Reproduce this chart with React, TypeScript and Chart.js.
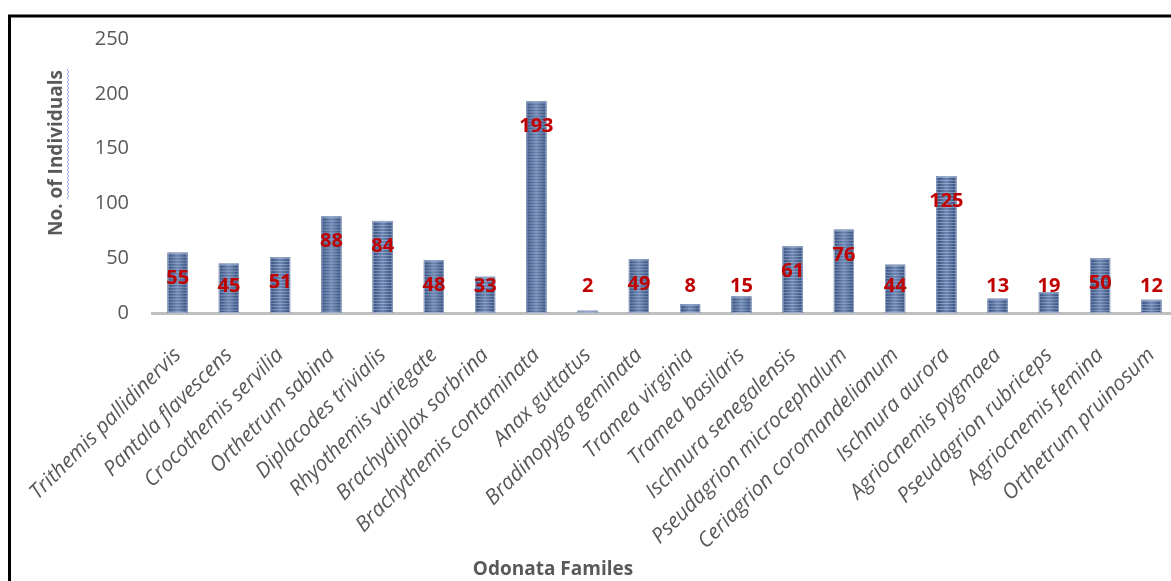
import React, { useEffect, useRef } from "react";
import { Chart, registerables } from "chart.js";

Chart.register(...registerables);

const categories = [
  "Trithemis pallidinervis",
  "Pantala flavescens",
  "Crocothemis servilia",
  "Orthetrum sabina",
  "Diplacodes trivialis",
  "Rhyothemis variegate",
  "Brachydiplax sorbrina",
  "Brachythemis contaminata",
  "Anax guttatus",
  "Bradinopyga geminata",
  "Tramea virginia",
  "Tramea basilaris",
  "Ischnura senegalensis",
  "Pseudagrion microcephalum",
  "Ceriagrion coromandelianum",
  "Ischnura aurora",
  "Agriocnemis pygmaea",
  "Pseudagrion rubriceps",
  "Agriocnemis femina",
  "Orthetrum pruinosum",
];

const individuals = [55, 45, 51, 88, 84, 48, 33, 193, 2, 49, 8, 15, 61, 76, 44, 125, 13, 19, 50, 12];

const yMin = 0;
const yMax = 250;
const yStep = 50;

const xTitle = "Odonata Familes";
const yTitle = "No. of Individuals";

const FONT = "'Open Sans', 'DejaVu Sans', sans-serif";

const framePlugin = {
  id: "frame",
  beforeDraw(chart: any) {
    const ctx = chart.ctx;
    ctx.save();
    ctx.fillStyle = "#ffffff";
    ctx.fillRect(0, 0, chart.width, chart.height);
    ctx.strokeStyle = "#000000";
    ctx.lineWidth = 3;
    ctx.beginPath();
    ctx.moveTo(9.5, chart.height + 5);
    ctx.lineTo(9.5, 16);
    ctx.lineTo(chart.width + 5, 16);
    ctx.stroke();
    ctx.restore();
  },
};

const barDecorPlugin = {
  id: "barDecor",
  afterDatasetsDraw(chart: any) {
    const ctx = chart.ctx;
    const meta = chart.getDatasetMeta(0);
    ctx.save();
    meta.data.forEach((bar: any) => {
      const w = bar.width;
      const left = bar.x - w / 2;
      const top = Math.min(bar.y, bar.base);
      const h = Math.abs(bar.base - bar.y);
      if (h <= 0) return;
      const g = ctx.createLinearGradient(left, 0, left + w, 0);
      g.addColorStop(0, "#324d7c");
      g.addColorStop(0.5, "#6d86b2");
      g.addColorStop(1, "#324d7c");
      ctx.fillStyle = g;
      ctx.fillRect(left, top, w, h);
      for (let yy = top + 1; yy < top + h; yy += 3) {
        ctx.fillStyle = "rgba(205,218,240,0.42)";
        ctx.fillRect(left, yy, w, 1);
      }
      ctx.strokeStyle = "rgba(170,185,215,0.8)";
      ctx.lineWidth = 1;
      ctx.strokeRect(left + 0.5, top + 0.5, w - 1, h - 1);
    });
    ctx.restore();
  },
};

const labelPlugin = {
  id: "valueLabels",
  afterDatasetsDraw(chart: any) {
    const ctx = chart.ctx;
    const meta = chart.getDatasetMeta(0);
    const ys = chart.scales.y;
    const data = chart.data.datasets[0].data as number[];
    ctx.save();
    ctx.font = `bold 20px ${FONT}`;
    ctx.fillStyle = "#c00000";
    ctx.textAlign = "center";
    ctx.textBaseline = "middle";
    meta.data.forEach((bar: any, i: number) => {
      const v = data[i];
      const y = ys.getPixelForValue(Math.max(v - 23, 24));
      ctx.fillText(String(v), bar.x, y);
    });
    ctx.restore();
  },
};

const titlesPlugin = {
  id: "axisTitles",
  afterDraw(chart: any) {
    const ctx = chart.ctx;
    ctx.save();
    ctx.fillStyle = "#595959";
    ctx.font = `bold 19px ${FONT}`;
    ctx.textAlign = "center";
    ctx.textBaseline = "middle";
    ctx.fillText(xTitle, 553, 570);
    ctx.translate(57, 153);
    ctx.rotate(-Math.PI / 2);
    ctx.font = `bold 19px ${FONT}`;
    ctx.fillText(yTitle, 0, 0);
    // spell-check squiggle under "of Individuals"
    const full = ctx.measureText(yTitle).width;
    const pre = ctx.measureText("No. ").width;
    const x0 = -full / 2 + pre;
    const x1 = full / 2;
    ctx.fillStyle = "#2f4fe0";
    for (let x = x0; x < x1; x += 2) {
      const off = (Math.round((x - x0) / 2) % 2) * 1;
      ctx.fillRect(x, 10 + off, 1, 1);
    }
    ctx.restore();
  },
};

export default function App() {
  const ref = useRef<HTMLCanvasElement>(null);
  useEffect(() => {
    if (!ref.current) return;
    const chart = new Chart(ref.current, {
      type: "bar",
      data: {
        labels: categories,
        datasets: [
          {
            data: individuals,
            backgroundColor: "#3f5a8c",
            borderWidth: 0,
            barPercentage: 0.39,
            categoryPercentage: 1,
          },
        ],
      },
      options: {
        animation: false,
        responsive: false,
        devicePixelRatio: 1,
        layout: { padding: { left: 0, top: 39, right: 3, bottom: 0 } },
        plugins: {
          legend: { display: false },
          tooltip: { enabled: false },
          title: { display: false },
        },
        scales: {
          x: {
            grid: { display: false, drawTicks: false },
            border: { display: true, color: "#bfbfbf", width: 3 },
            ticks: {
              autoSkip: false,
              maxRotation: 45,
              minRotation: 45,
              padding: 30,
              color: "#595959",
              font: { family: FONT, size: 21, style: "italic" },
            },
            afterFit(scale: any) {
              scale.height = 581 - 313;
              scale.paddingLeft = 0;
              scale.paddingRight = 0;
            },
          },
          y: {
            min: yMin,
            max: yMax,
            grid: { display: false, drawTicks: false },
            border: { display: false },
            ticks: {
              stepSize: yStep,
              padding: 23,
              color: "#595959",
              font: { family: FONT, size: 20 },
            },
            afterFit(scale: any) {
              scale.width = 152;
            },
          },
        },
      },
      plugins: [framePlugin, barDecorPlugin, labelPlugin, titlesPlugin],
    });
    return () => chart.destroy();
  }, []);
  return (
    <div
      style={{
        position: "fixed",
        left: 0,
        top: 0,
        width: 1171,
        height: 581,
        overflow: "hidden",
        background: "#ffffff",
      }}
    >
      <canvas ref={ref} width={1180} height={581} style={{ display: "block", width: 1180, height: 581 }} />
    </div>
  );
}
